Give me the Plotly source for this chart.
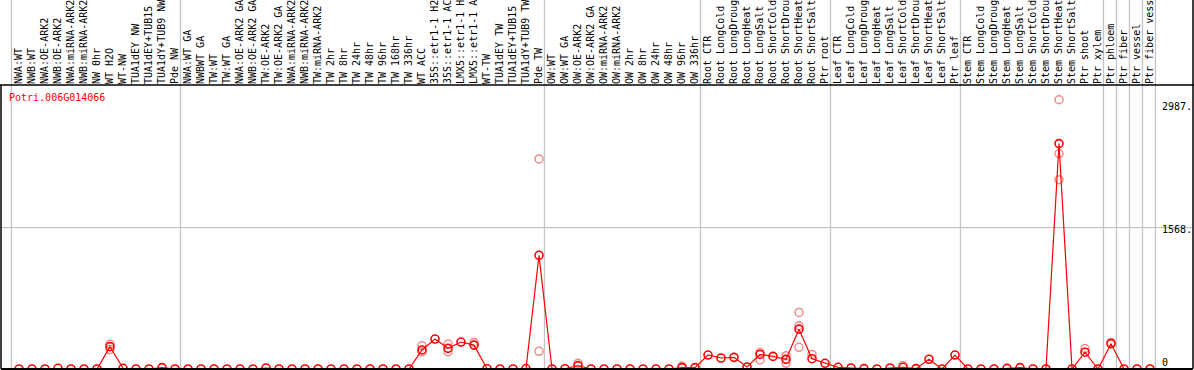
import plotly.graph_objects as go

labels = [
    "NWA:WT", "NWB:WT", "NWA:OE-ARK2", "NWB:OE-ARK2", "NWA:miRNA-ARK2", "NWB:miRNA-ARK2",
    "NW 0hr", "WT H2O", "WT-NW", "TUA1dEY NW", "TUA1dEY+TUB15", "TUA1dY+TUB9 NW", "Pde NW",
    "NWA:WT GA", "NWBWT GA", "TW:WT", "TW:WT GA", "NWA:OE-ARK2 GA", "NWB:OE-ARK2 GA",
    "TW:OE-ARK2", "TW:OE-ARK2 GA", "NWA:miRNA-ARK2", "NWB:miRNA-ARK2", "TW:miRNA-ARK2",
    "TW 2hr", "TW 8hr", "TW 24hr", "TW 48hr", "TW 96hr", "TW 168hr", "TW 336hr", "WT ACC",
    "35S::etr1-1 H2O", "35S::etr1-1 ACC", "LMX5::etr1-1 H2O", "LMX5::etr1-1 ACC",
    "WT-TW", "TUA1dEY TW", "TUA1dEY+TUB15", "TUA1dY+TUB9 TW", "Pde TW",
    "OW:WT", "OW:WT GA", "OW:OE-ARK2", "OW:OE-ARK2 GA", "OW:miRNA-ARK2", "OW:miRNA-ARK2",
    "OW 2hr", "OW 8hr", "OW 24hr", "OW 48hr", "OW 96hr", "OW 336hr",
    "Root CTR", "Root LongCold", "Root LongDrought", "Root LongHeat", "Root LongSalt",
    "Root ShortCold", "Root ShortDrought", "Root ShortHeat", "Root ShortSalt", "Ptr root",
    "Leaf CTR", "Leaf LongCold", "Leaf LongDrought", "Leaf LongHeat", "Leaf LongSalt",
    "Leaf ShortCold", "Leaf ShortDrought", "Leaf ShortHeat", "Leaf ShortSalt", "Ptr leaf",
    "Stem CTR", "Stem LongCold", "Stem LongDrought", "Stem LongHeat", "Stem LongSalt",
    "Stem ShortCold", "Stem ShortDrought", "Stem ShortHeat", "Stem ShortSalt",
    "Ptr shoot", "Ptr xylem", "Ptr phloem", "Ptr fiber", "Ptr vessel", "Ptr fiber vessel",
]

mean_values = [
    0, 0, 0, 8, 0, 0, 0, 248, 8, 0, 0, 15, 0,
    0, 0, 0, 0, 0, 0, 11, 0, 0, 0, 0, 0, 0, 0, 0, 0, 0, 0,
    211, 332, 229, 299, 265, 3, 0, 0, 5, 1261,
    0, 3, 37, 0, 0, 0, 0, 0, 0, 0, 15, 15,
    155, 122, 129, 22, 162, 140, 107, 442, 114, 63,
    19, 11, 4, 0, 11, 19, 4, 108, 0, 155,
    0, 0, 0, 7, 15, 0, 0, 2500, 0,
    186, 0, 281, 0, 0, 0,
]

rep_index = [7, 7, 31, 31, 33, 33, 35, 40, 40, 43, 51, 57, 57, 59, 59, 60, 60, 60, 61, 68, 80, 80, 80, 82, 84]
rep_values = [275, 215, 259, 189, 276, 191, 295, 2330, 196, 63, 33, 184, 100, 148, 63, 627, 479, 240, 162, 40, 2987, 2390, 2100, 226, 295]

separators = [-1, 12, 40, 52, 62, 72, 83, 84, 85, 86, 87]
y_tick_values = [0, 1568, 2987]
y_tick_text = ["0", "1568.", "2987."]
gene = "Potri.006G014066"

W, H = 1194, 370
ML, MR, MT, MB = 1, 1, 85, 1
xr = [(ML - 19) / 13, (W - MR - 19) / 13]
yr = [0, 3150]
upp = (yr[1] - yr[0]) / (H - MT - MB)  # data units per pixel
label_shift_px = [-7, 1.5, 7]  # downward pixel shift of right-hand labels

fig = go.Figure()
fig.add_trace(go.Scatter(
    x=rep_index, y=rep_values, mode="markers",
    marker=dict(symbol="circle-open", size=8, color="rgb(240,140,140)", line=dict(width=1.5)),
    cliponaxis=False, showlegend=False, hoverinfo="skip"))
fig.add_trace(go.Scatter(
    x=list(range(len(mean_values))), y=mean_values, mode="lines+markers",
    line=dict(color="red", width=1.2),
    marker=dict(symbol="circle-open", size=8, color="red", line=dict(width=1.6)),
    cliponaxis=False, showlegend=False))

top_paper = (H - MB) / (H - MT - MB) + 0.01
shapes = []
for s in separators:
    shapes.append(dict(type="line", xref="x", yref="paper", x0=s + 0.42, x1=s + 0.42,
                       y0=0, y1=top_paper,
                       line=dict(color="#c4c4c4", width=1.3), layer="below"))
shapes.append(dict(type="line", xref="paper", yref="y", x0=0, x1=1, y0=1568, y1=1568,
                   line=dict(color="#c4c4c4", width=1.3), layer="below"))
# frame
shapes.append(dict(type="line", xref="paper", yref="paper", x0=-0.01, x1=1.01, y0=1, y1=1,
                   line=dict(color="black", width=1.5)))
shapes.append(dict(type="line", xref="paper", yref="paper", x0=0, x1=1, y0=0, y1=0,
                   line=dict(color="black", width=2)))
shapes.append(dict(type="line", xref="paper", yref="paper", x0=0, x1=0, y0=0, y1=1,
                   line=dict(color="black", width=1.5)))
shapes.append(dict(type="line", xref="paper", yref="paper", x0=1, x1=1, y0=0,
                   y1=top_paper, line=dict(color="black", width=1.5)))

annotations = [dict(text=gene, xref="paper", yref="paper", x=0.005, y=0.955,
                    xanchor="left", yanchor="middle", showarrow=False,
                    font=dict(family="DejaVu Sans Mono", size=10, color="red"))]
for v, t, sh in zip(y_tick_values, y_tick_text, label_shift_px):
    annotations.append(dict(text=t, xref="x", yref="y", x=87.8, y=v - sh * upp,
                            xanchor="left", yanchor="middle", showarrow=False,
                            font=dict(family="DejaVu Sans Mono", size=10, color="black")))

fig.update_layout(
    width=W, height=H, margin=dict(l=ML, r=MR, t=MT, b=MB, autoexpand=False),
    paper_bgcolor="white", plot_bgcolor="white",
    xaxis=dict(range=xr, side="top", tickmode="array", tickvals=list(range(len(labels))),
               ticktext=labels, tickangle=-90, showgrid=False, zeroline=False,
               showline=False, ticks="", automargin=False,
               tickfont=dict(family="DejaVu Sans Mono", size=10, color="black")),
    yaxis=dict(range=yr, showgrid=False, zeroline=False, showticklabels=False,
               showline=False, ticks=""),
    shapes=shapes, annotations=annotations,
)
fig.write_html("out.html", config={"displayModeBar": False},
               post_script="document.body.style.margin='0';document.body.style.overflow='hidden';")
